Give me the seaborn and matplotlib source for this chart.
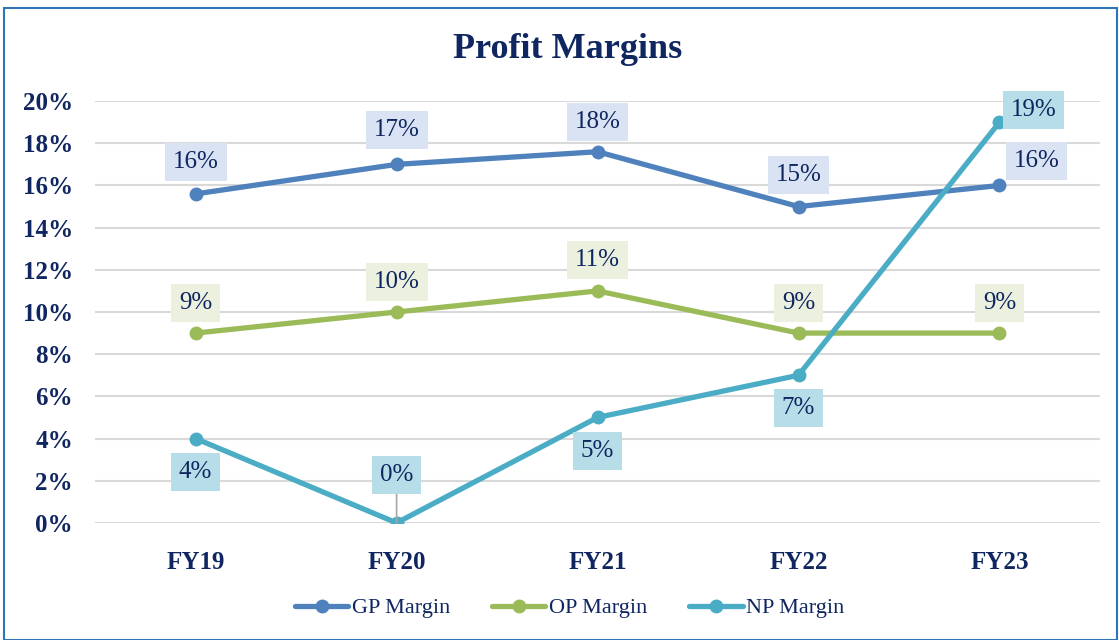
import pandas as pd
import matplotlib.pyplot as plt
import seaborn as sns
from matplotlib.patches import Rectangle

# chart values
years = ["FY19", "FY20", "FY21", "FY22", "FY23"]
gp_margin = [15.6, 17.0, 17.6, 15.0, 16.0]
op_margin = [9, 10, 11, 9, 9]
np_margin = [4, 0, 5, 7, 19]
series_names = ["GP Margin", "OP Margin", "NP Margin"]
y_ticks = [0, 2, 4, 6, 8, 10, 12, 14, 16, 18, 20]

colors = {"GP Margin": "#4f81bd", "OP Margin": "#9bbb59", "NP Margin": "#4bacc6"}
box_colors = {"GP Margin": "#dae3f3", "OP Margin": "#ebf1de", "NP Margin": "#b7dee8"}
navy = "#0f2660"

df = pd.DataFrame({
    "Year": years * 3,
    "Margin": gp_margin + op_margin + np_margin,
    "Metric": sum([[s] * len(years) for s in series_names], []),
})

sns.set_style("white")
plt.rcParams["font.family"] = ["Liberation Serif", "DejaVu Serif"]

fig = plt.figure(figsize=(11.19, 6.40), dpi=100)
ax = fig.add_axes([0.085, 0.183, 0.898, 0.659])

sns.lineplot(data=df, x="Year", y="Margin", hue="Metric", palette=colors,
             marker="o", markersize=10, markeredgewidth=0, linewidth=3.8,
             ax=ax, legend=True)

ax.set_xlim(-0.5, 4.5)
ax.set_ylim(0, 20)
ax.set_yticks(y_ticks)
ax.set_yticklabels([f"{t}%" for t in y_ticks])
ax.grid(axis="y", color="#d9d9d9", linewidth=1.5)
ax.set_axisbelow(True)
for s in ax.spines.values():
    s.set_visible(False)
ax.tick_params(length=0, labelsize=18, labelcolor=navy)
for lbl in ax.get_xticklabels() + ax.get_yticklabels():
    lbl.set_fontweight("bold")
ax.tick_params(axis="y", pad=16)
ax.tick_params(axis="x", pad=20)
ax.set_xlabel("")
ax.set_ylabel("")

# label offsets in pixels (dx, dy)
offsets = {
    "GP Margin": [(0, 32), (0, 34), (0, 30), (0, 32), (37, 24)],
    "OP Margin": [(0, 30), (0, 30), (0, 31), (0, 30), (0, 30)],
    "NP Margin": [(0, -33), (0, 48), (0, -34), (0, -33), (34, 12)],
}
values = {"GP Margin": gp_margin, "OP Margin": op_margin, "NP Margin": np_margin}
for name in series_names:
    for i, v in enumerate(values[name]):
        dx, dy = offsets[name][i]
        arrow = None
        if name == "NP Margin" and i == 1:
            arrow = dict(arrowstyle="-", color="#a6a6a6", lw=1.2, shrinkA=0, shrinkB=0)
        ax.annotate(f"{v:.0f}%", xy=(i, v), xytext=(dx, dy), textcoords="offset pixels",
                    ha="center", va="center", fontsize=18, color=navy,
                    bbox=dict(boxstyle="square,pad=0.32", fc=box_colors[name], ec="none"),
                    arrowprops=arrow, zorder=5)

ax.legend_.remove()
handles, labels = ax.get_legend_handles_labels()
fig.legend(handles, labels, loc="center", bbox_to_anchor=(0.509, 0.05), ncol=3,
           frameon=False, fontsize=16, handlelength=2.4, columnspacing=1.9,
           handletextpad=0.15, labelcolor=navy)

fig.text(0.507, 0.922, "Profit Margins", ha="center", va="center",
         fontsize=26, fontweight="bold", color=navy)

fig.patches.append(Rectangle((0.004, 0.0), 0.994, 0.988, transform=fig.transFigure,
                             fill=False, ec="#2e75b6", lw=1.5))

fig.savefig("out.png", dpi=100)
